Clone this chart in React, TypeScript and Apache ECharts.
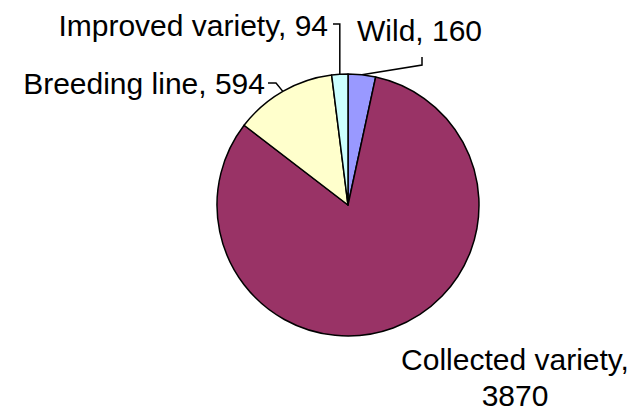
import React, { useEffect, useRef } from 'react';
import * as echarts from 'echarts';

// ---- data ----
const categories = ['Wild', 'Collected variety', 'Breeding line', 'Improved variety'];
const counts = [160, 3870, 594, 94];
const sliceColors = ['#9999FF', '#993366', '#FFFFCC', '#CCFFFF'];

// ---- layout ----
const WIDTH = 635;
const HEIGHT = 413;
const CX = 348;
const CY = 205;
const RADIUS = 131;
const FONT = '"Liberation Sans", Arial, Helvetica, sans-serif';

// anchor on the pie edge at the middle of each slice (computed from data)
function sliceAnchor(index: number): number[] {
  const total = counts.reduce((a, b) => a + b, 0);
  let before = 0;
  for (let i = 0; i < index; i++) before += counts[i];
  const mid = ((before + counts[index] / 2) / total) * Math.PI * 2; // clockwise from top
  return [CX + RADIUS * Math.sin(mid), CY - RADIUS * Math.cos(mid)];
}

type Placement = {
  x: number;
  y: number;
  align: 'left' | 'center' | 'right';
  line: ((a: number[]) => number[][]) | null;
};

const placements: Placement[] = [
  { x: 357, y: 30, align: 'left', line: (a) => [a, [422, 65], [422, 57]] },
  { x: 515, y: 377, align: 'center', line: null },
  { x: 265, y: 83, align: 'right', line: (a) => [a, [276, 83], [268, 83]] },
  { x: 328, y: 25, align: 'right', line: (a) => [a, [a[0], 24], [333, 24]] },
];

export default function App() {
  const ref = useRef<HTMLDivElement>(null);

  useEffect(() => {
    if (!ref.current) return;
    const chart = echarts.init(ref.current, undefined, { renderer: 'svg' });
    chart.setOption({
      animation: false,
      backgroundColor: '#ffffff',
      series: [
        {
          type: 'pie',
          center: [CX, CY],
          radius: RADIUS,
          startAngle: 90,
          clockwise: true,
          avoidLabelOverlap: false,
          emphasis: { disabled: true },
          itemStyle: { borderColor: '#000000', borderWidth: 1.5 },
          label: {
            show: true,
            position: 'outside',
            formatter: '{b}, {c}',
            fontFamily: FONT,
            fontSize: 30,
            color: '#000000',
            width: 600,
            overflow: 'none',
            lineHeight: 36,
          },
          labelLine: {
            show: true,
            smooth: false,
            length: 10,
            length2: 10,
            lineStyle: { color: '#000000', width: 1.5 },
          },
          labelLayout: (params: any) => {
            const p = placements[params.dataIndex];
            const out: any = {
              x: p.x,
              y: p.y,
              align: p.align,
              verticalAlign: 'middle',
            };
            if (p.line) out.labelLinePoints = p.line(sliceAnchor(params.dataIndex));
            return out;
          },
          data: categories.map((name, i) => ({
            name,
            value: counts[i],
            itemStyle: { color: sliceColors[i] },
            ...(i === 1
              ? { label: { formatter: '{b},\n{c}' }, labelLine: { show: false } }
              : {}),
          })),
        },
      ],
    });
    return () => chart.dispose();
  }, []);

  return (
    <div
      ref={ref}
      style={{ position: 'fixed', left: 0, top: 0, width: WIDTH, height: HEIGHT, background: '#fff' }}
    />
  );
}
